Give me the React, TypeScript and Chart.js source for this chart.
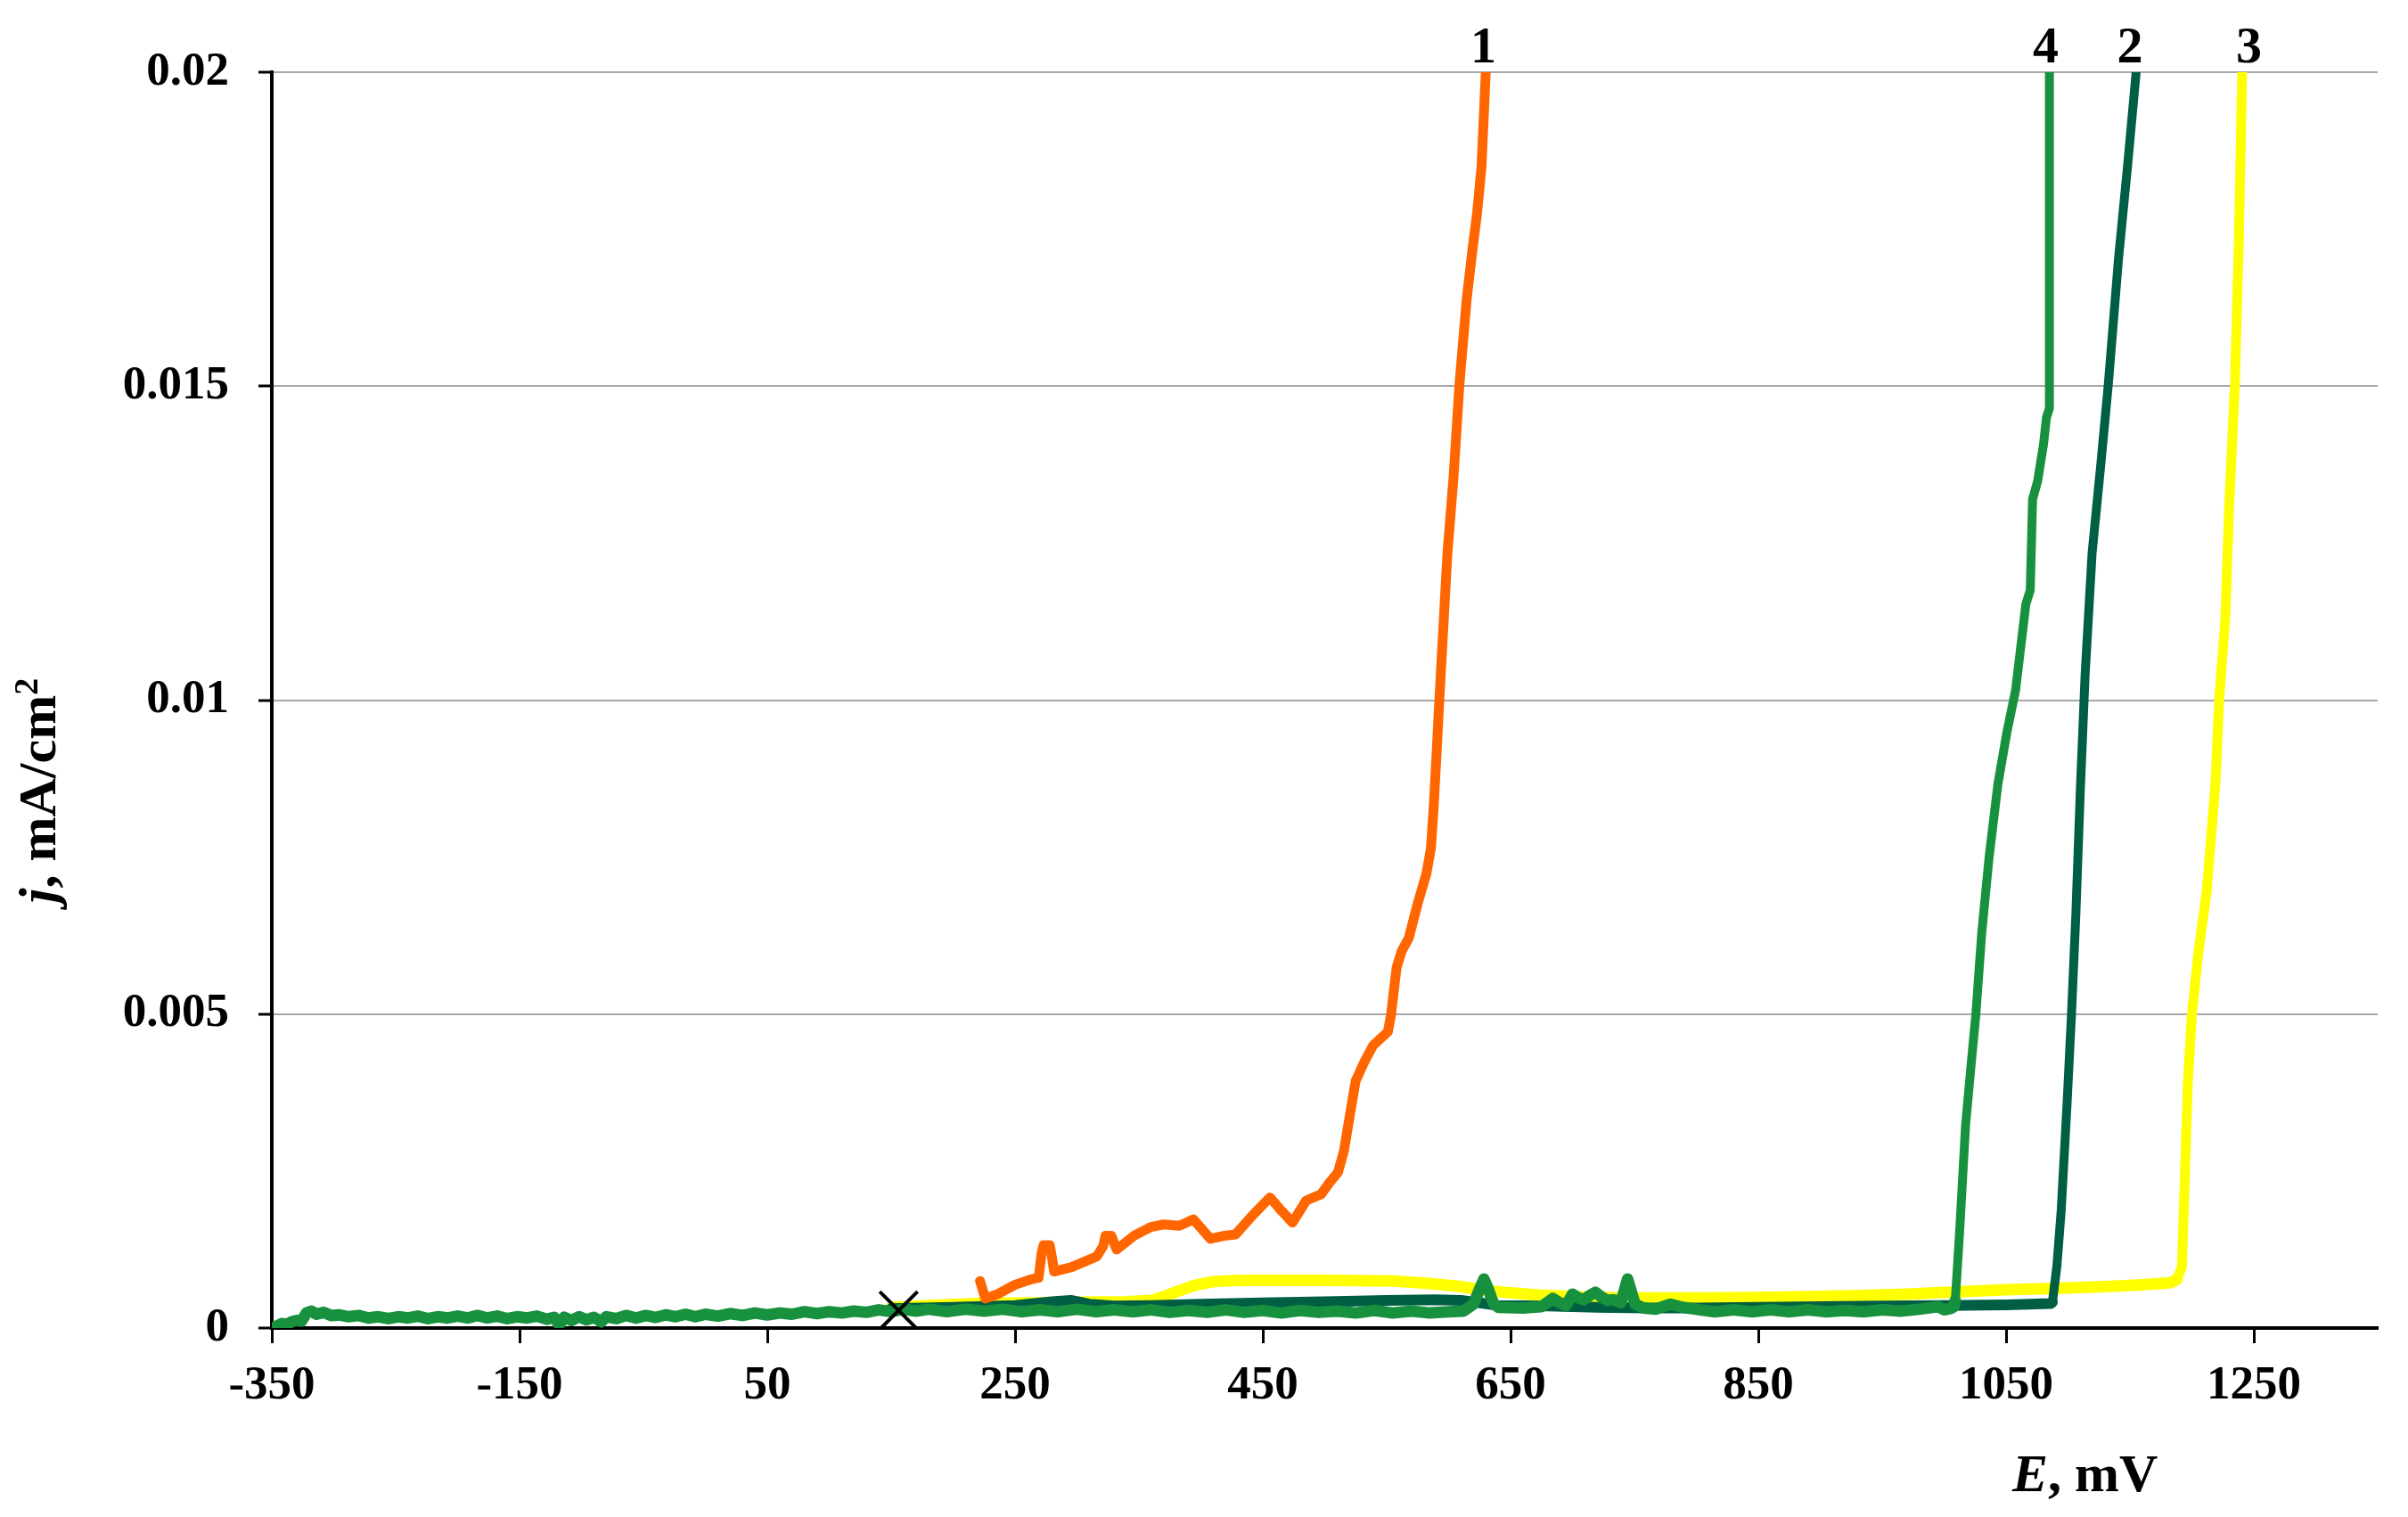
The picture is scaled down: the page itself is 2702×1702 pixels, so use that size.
import React, { useEffect, useRef } from "react";
import { Chart, registerables } from "chart.js";

Chart.register(...registerables);

// ---- axes ----
const X_MIN = -350;
const X_MAX = 1350;
const Y_MIN = 0;
const Y_MAX = 0.02;
const X_TICKS = [-350, -150, 50, 250, 450, 650, 850, 1050, 1250];
const X_TICK_LABELS = ["-350", "-150", "50", "250", "450", "650", "850", "1050", "1250"];
const Y_TICKS = [0, 0.005, 0.01, 0.015, 0.02];
const Y_TICK_LABELS = ["0", "0.005", "0.01", "0.015", "0.02"];

// ---- curve names / label positions (E, mV, where number is written above top) ----
const CURVE_NAMES = ["1", "2", "3", "4"];
const CURVE_COLORS = ["#FF6600", "#005E44", "#FFFF00", "#17913E"];
const LABEL_E = [628, 1150, 1246, 1082];

// ---- curve 1 (orange) ----
const E1 = [221.7, 226, 236, 250, 263.7, 269, 271.5, 273, 278, 280, 281.5, 295.7, 316, 321, 323, 327.7, 332, 346, 359.7, 370, 382.6, 394, 407.7, 419, 428, 442, 455.7, 465, 474, 485, 497, 503.6, 510.7, 515.5, 520, 525, 532, 539, 551, 553.5, 558, 562, 567.8, 575, 582, 585.7, 588, 590.4, 592.5, 599, 604, 608.7, 614.6, 619.4, 623, 626.5, 630];
const J1 = [0.00075, 0.00047, 0.00054, 0.00069, 0.00078, 0.0008, 0.0012, 0.00132, 0.00132, 0.0011, 0.0009, 0.00097, 0.00114, 0.0013, 0.00147, 0.00147, 0.00125, 0.00147, 0.00161, 0.00165, 0.00163, 0.00173, 0.00142, 0.00147, 0.00149, 0.0018, 0.00208, 0.00187, 0.00168, 0.00203, 0.00213, 0.00231, 0.00248, 0.00282, 0.00336, 0.00394, 0.00424, 0.0045, 0.00472, 0.00499, 0.00574, 0.006, 0.00621, 0.00676, 0.00723, 0.00764, 0.00832, 0.0092, 0.01, 0.01233, 0.01356, 0.01502, 0.01639, 0.0172, 0.01776, 0.01848, 0.02];

// ---- curve 2 (dark green) ----
const E2 = [150, 200, 250, 280, 295, 310, 330, 360, 400, 450, 500, 550, 590, 610, 625, 640, 680, 720, 760, 800, 850, 900, 950, 1000, 1050, 1086, 1087.4, 1091, 1094.5, 1099.2, 1102.8, 1106.4, 1110, 1113.8, 1119.4, 1126.6, 1132.5, 1140.8, 1148, 1155];
const J2 = [0.00031, 0.00033, 0.00036, 0.00042, 0.00044, 0.00038, 0.00035, 0.00036, 0.00038, 0.0004, 0.00042, 0.00044, 0.00045, 0.00044, 0.0004, 0.00036, 0.00035, 0.00033, 0.00032, 0.00032, 0.00033, 0.00034, 0.00035, 0.00036, 0.00037, 0.00039, 0.00041, 0.00098, 0.00187, 0.00356, 0.00499, 0.00662, 0.0086, 0.0104, 0.01233, 0.01378, 0.01502, 0.01704, 0.01849, 0.02];

// ---- curve 3 (yellow) ----
const E3 = [150, 180, 220, 260, 300, 340, 360, 370, 382, 395, 410, 430, 470, 510, 556, 584, 610, 625, 645, 670, 700, 740, 800, 860, 920, 970, 1005, 1050, 1090, 1130, 1160, 1182, 1186, 1188, 1192, 1194, 1196.7, 1200, 1205, 1212, 1219, 1222, 1227, 1230, 1234.7, 1238, 1240.6];
const J3 = [0.00033, 0.00036, 0.00039, 0.0004, 0.00041, 0.00042, 0.00044, 0.0005, 0.00059, 0.00068, 0.00074, 0.00076, 0.00076, 0.00076, 0.00075, 0.00071, 0.00066, 0.00061, 0.00057, 0.00053, 0.0005, 0.00048, 0.00048, 0.00049, 0.00051, 0.00054, 0.00057, 0.00061, 0.00063, 0.00066, 0.00069, 0.00072, 0.00075, 0.00078, 0.00098, 0.0022, 0.0039, 0.00499, 0.00594, 0.00696, 0.00866, 0.01, 0.0113, 0.01305, 0.01502, 0.0174, 0.02];

// ---- curve 4 (green) ----
const E4 = [-350, -346, -342, -338, -334, -330, -326, -322, -318, -314, -308, -302, -296, -288, -280, -272, -264, -256, -248, -240, -232, -224, -216, -208, -200, -192, -184, -176, -168, -160, -152, -144, -136, -128, -122, -118, -114, -108, -102, -96, -90, -84, -80, -72, -64, -56, -48, -40, -32, -24, -16, -8, 0, 10, 20, 30, 40, 50, 60, 70, 80, 90, 100, 110, 120, 130, 140, 150, 160, 170, 180, 195, 210, 225, 240, 255, 270, 285, 300, 315, 330, 345, 360, 375, 390, 405, 420, 435, 450, 465, 480, 495, 510, 525, 540, 555, 570, 585, 600, 612, 620, 625, 628.5, 632, 636, 640, 660, 675, 684, 690, 695, 700, 705, 709, 714, 718.5, 723, 728, 733, 739, 744.5, 750.5, 757, 767, 779, 789, 796, 803, 815, 830, 845, 860, 875, 890, 905, 920, 935, 950, 965, 980, 995, 1000, 1005, 1008, 1009, 1012.5, 1017.3, 1022, 1025.6, 1030.3, 1036.3, 1043.4, 1050.5, 1057.7, 1066, 1069.5, 1071.4, 1075.5, 1080.2, 1082.6, 1085, 1085];
const J4 = [0, 0.00003, 0.00007, 0.00006, 0.0001, 0.00012, 0.00011, 0.00024, 0.00027, 0.00022, 0.00025, 0.0002, 0.00021, 0.00018, 0.0002, 0.00016, 0.00018, 0.00015, 0.00018, 0.00016, 0.00019, 0.00015, 0.00018, 0.00016, 0.00019, 0.00016, 0.0002, 0.00016, 0.00019, 0.00015, 0.00018, 0.00016, 0.00019, 0.00014, 0.00017, 0.00005, 0.00017, 0.00012, 0.00018, 0.00013, 0.00017, 0.0001, 0.00018, 0.00015, 0.0002, 0.00016, 0.0002, 0.00017, 0.00021, 0.00018, 0.00022, 0.00018, 0.00022, 0.00019, 0.00023, 0.0002, 0.00024, 0.00021, 0.00024, 0.00022, 0.00026, 0.00023, 0.00026, 0.00024, 0.00027, 0.00025, 0.00029, 0.00026, 0.0003, 0.00027, 0.0003, 0.00026, 0.0003, 0.00027, 0.0003, 0.00026, 0.00029, 0.00026, 0.0003, 0.00026, 0.00029, 0.00026, 0.00029, 0.00025, 0.00028, 0.00025, 0.00029, 0.00025, 0.00028, 0.00024, 0.00028, 0.00025, 0.00027, 0.00024, 0.00028, 0.00024, 0.00027, 0.00024, 0.00026, 0.00027, 0.00038, 0.00062, 0.00078, 0.00062, 0.0004, 0.00033, 0.00032, 0.00034, 0.00047, 0.0004, 0.00036, 0.00054, 0.00048, 0.00045, 0.00052, 0.00057, 0.0005, 0.00044, 0.00045, 0.0004, 0.00078, 0.00038, 0.00032, 0.0003, 0.00038, 0.00033, 0.00031, 0.00029, 0.00026, 0.00029, 0.00026, 0.00029, 0.00026, 0.00029, 0.00026, 0.00028, 0.00026, 0.00029, 0.00027, 0.0003, 0.00034, 0.00029, 0.00031, 0.00034, 0.00044, 0.00153, 0.00323, 0.00424, 0.00499, 0.00628, 0.0075, 0.00866, 0.00947, 0.01016, 0.01153, 0.01175, 0.0132, 0.01349, 0.01407, 0.0145, 0.01465, 0.02];

// ---- marker (×) ----
const MARKER_E = [156];
const MARKER_J = [0.00028];

const SERIF = "'Liberation Serif', 'Times New Roman', 'DejaVu Serif', serif";

function pts(xs: number[], ys: number[]) {
  return xs.map((x, i) => ({ x, y: ys[i] }));
}

const textPlugin = {
  id: "customText",
  afterDraw(chart: any) {
    const ctx = chart.ctx as CanvasRenderingContext2D;
    const xs = chart.scales.x;
    const ys = chart.scales.y;
    ctx.save();
    ctx.fillStyle = "#000";
    ctx.font = `bold 58px ${SERIF}`;
    ctx.textAlign = "center";
    ctx.textBaseline = "alphabetic";
    CURVE_NAMES.forEach((n, i) => {
      ctx.fillText(n, xs.getPixelForValue(LABEL_E[i]), ys.top - 11);
    });

    ctx.textAlign = "left";
    const italic = `italic bold 60px ${SERIF}`;
    const bold = `bold 60px ${SERIF}`;
    let x0 = 2258;
    const yb = 1673;
    ctx.font = italic;
    ctx.fillText("E", x0, yb);
    x0 += ctx.measureText("E").width;
    ctx.font = bold;
    ctx.fillText(", mV", x0, yb);

    ctx.translate(62, 887);
    ctx.rotate(-Math.PI / 2);
    const sup = `bold 38px ${SERIF}`;
    ctx.font = italic;
    const wj = ctx.measureText("j").width;
    ctx.font = bold;
    const wm = ctx.measureText(", mA/cm").width;
    ctx.font = sup;
    const w2 = ctx.measureText("2").width;
    let lx = -(wj + wm + w2) / 2;
    ctx.font = italic;
    ctx.fillText("j", lx, 0);
    lx += wj;
    ctx.font = bold;
    ctx.fillText(", mA/cm", lx, 0);
    lx += wm;
    ctx.font = sup;
    ctx.fillText("2", lx, -20);
    ctx.restore();
  },
};

export default function App() {
  const ref = useRef<HTMLCanvasElement | null>(null);
  useEffect(() => {
    if (!ref.current) return;
    const lineDs = (label: string, xs: number[], ys: number[], color: string, width: number, lowWidth: number, order: number) => ({
      label,
      data: pts(xs, ys),
      borderColor: color,
      backgroundColor: color,
      borderWidth: width,
      pointRadius: 0,
      showLine: true,
      tension: 0,
      fill: false,
      borderCapStyle: "round" as const,
      borderJoinStyle: "round" as const,
      segment: {
        borderWidth: (c: any) => (c.p0.parsed.y < 0.0009 && c.p1.parsed.y < 0.0009 ? lowWidth : width),
      },
      order,
    });
    const chart = new Chart(ref.current, {
      type: "scatter",
      data: {
        datasets: [
          lineDs(CURVE_NAMES[0], E1, J1, CURVE_COLORS[0], 11, 11, 1),
          lineDs(CURVE_NAMES[1], E2, J2, CURVE_COLORS[1], 10, 12, 3),
          lineDs(CURVE_NAMES[2], E3, J3, CURVE_COLORS[2], 11, 13, 4),
          lineDs(CURVE_NAMES[3], E4, J4, CURVE_COLORS[3], 10, 13, 2),
          {
            label: "marker",
            data: pts(MARKER_E, MARKER_J),
            pointStyle: "crossRot",
            pointRadius: 30,
            borderColor: "#000",
            backgroundColor: "#000",
            borderWidth: 4,
            showLine: false,
            order: 0,
          } as any,
        ],
      },
      options: {
        animation: false,
        responsive: false,
        devicePixelRatio: 1,
        layout: { padding: { left: 0, top: 81, right: 12, bottom: 0 } },
        plugins: { legend: { display: false }, tooltip: { enabled: false } },
        scales: {
          x: {
            type: "linear",
            min: X_MIN,
            max: X_MAX,
            afterBuildTicks: (s: any) => {
              s.ticks = X_TICKS.map((v) => ({ value: v }));
            },
            afterFit: (s: any) => {
              s.height = 212;
            },
            ticks: {
              callback: (_v: any, i: number) => X_TICK_LABELS[i],
              font: { family: SERIF, size: 53, weight: "bold" },
              color: "#000",
              padding: 17,
              maxRotation: 0,
              autoSkip: false,
            },
            grid: { drawOnChartArea: false, drawTicks: true, tickLength: 17, tickWidth: 3, tickColor: "#000" },
            border: { display: true, color: "#000", width: 4 },
          },
          y: {
            type: "linear",
            min: Y_MIN,
            max: Y_MAX,
            afterBuildTicks: (s: any) => {
              s.ticks = Y_TICKS.map((v) => ({ value: v }));
            },
            afterFit: (s: any) => {
              s.width = 305;
            },
            ticks: {
              callback: (_v: any, i: number) => Y_TICK_LABELS[i],
              font: { family: SERIF, size: 53, weight: "bold" },
              color: "#000",
              padding: 33,
              autoSkip: false,
            },
            grid: { color: "#A8A8A8", lineWidth: 2, drawTicks: true, tickLength: 15, tickWidth: 3, tickColor: "#000" },
            border: { display: true, color: "#000", width: 4 },
          },
        },
      },
      plugins: [textPlugin],
    } as any);
    return () => chart.destroy();
  }, []);
  return (
    <div style={{ position: "fixed", left: 0, top: 0, width: 2702, height: 1702, background: "#fff" }}>
      <canvas ref={ref} width={2702} height={1702} style={{ width: 2702, height: 1702, display: "block" }} />
    </div>
  );
}
